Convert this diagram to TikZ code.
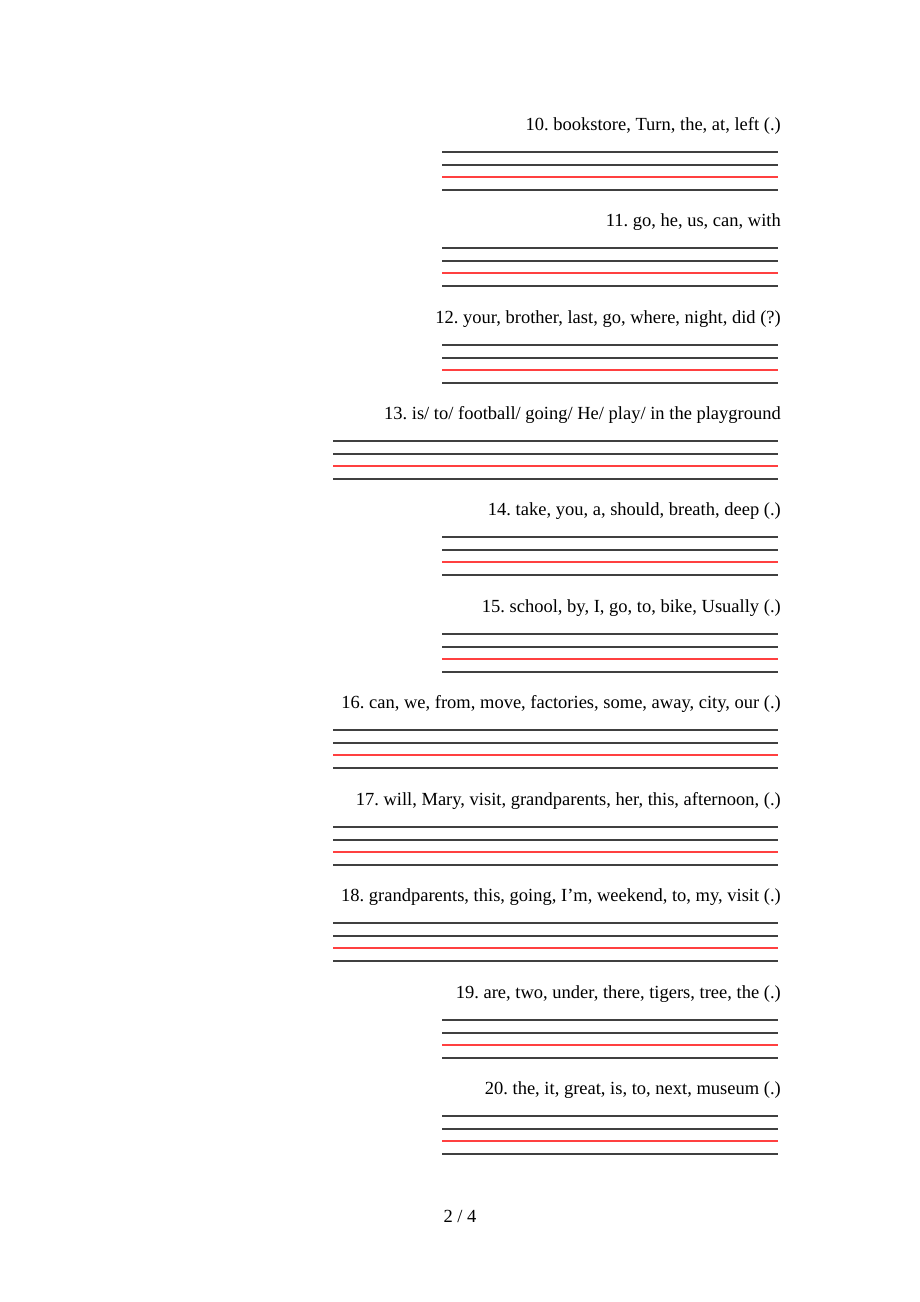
\documentclass[tikz,border=0pt]{standalone}
\usepackage{fontspec}
\setmainfont{Liberation Serif}
\frenchspacing
\begin{document}
\begin{tikzpicture}[x=1pt,y=-1pt,
  qtext/.style={anchor=base east, inner sep=0pt, font=\fontsize{18.5}{22}\selectfont},
  rule/.style={line width=2pt, draw=black!75},
  redrule/.style={line width=2pt, draw=red!75}]
\useasboundingbox (0,0) rectangle (920,1302);
\foreach \n/\y/\xl/\t in {
  10/124/442/{10. bookstore, Turn, the, at, left (.)},
  11/220/442/{11. go, he, us, can, with},
  12/317/442/{12. your, brother, last, go, where, night, did (?)},
  13/413/333/{13. is/ to/ football/ going/ He/ play/ in the playground},
  14/509/442/{14. take, you, a, should, breath, deep (.)},
  15/606/442/{15. school, by, I, go, to, bike, Usually (.)},
  16/702/333/{16. can, we, from, move, factories, some, away, city, our (.)},
  17/799/333/{17. will, Mary, visit, grandparents, her, this, afternoon, (.)},
  18/895/333/{18. grandparents, this, going, I’m, weekend, to, my, visit (.)},
  19/992/442/{19. are, two, under, there, tigers, tree, the (.)},
  20/1088/442/{20. the, it, great, is, to, next, museum (.)}}{
  \node[qtext] (q\n) at (781,\y+6.5) {\t};
  \coordinate (a\n) at (\xl,\y+28);
  \coordinate (b\n) at (778,\y+28);
  \draw[rule] (a\n) -- (b\n);
  \draw[rule] ([yshift=-13pt]a\n) -- ([yshift=-13pt]b\n);
  \draw[redrule] ([yshift=-25pt]a\n) -- ([yshift=-25pt]b\n);
  \draw[rule] ([yshift=-38pt]a\n) -- ([yshift=-38pt]b\n);
}
\node[inner sep=0pt, anchor=base, font=\fontsize{18.5}{22}\selectfont] (page) at (460,1222) {2 / 4};
\end{tikzpicture}
\end{document}
